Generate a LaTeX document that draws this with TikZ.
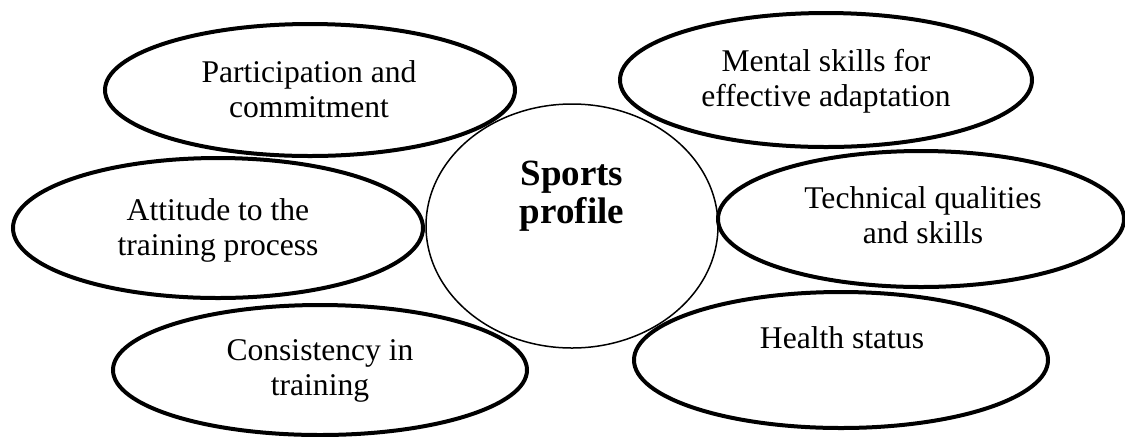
\documentclass[tikz,border=0pt]{standalone}
\usepackage{fontspec}
\setmainfont{Liberation Serif}
\usetikzlibrary{shapes.geometric}
\begin{document}
\begin{tikzpicture}[x=0.5pt, y=-0.5pt,
  petal/.style={ellipse, draw, line width=2pt, inner sep=0pt},
  hub/.style={ellipse, draw, line width=0.75pt, inner sep=0pt},
  petaltext/.style={align=center, anchor=base, inner sep=0pt,
    font=\fontsize{15.8}{17.5}\selectfont},
  hubtext/.style={align=center, anchor=base, inner sep=0pt,
    font=\bfseries\fontsize{18.5}{19}\selectfont}]
  \useasboundingbox (0,0) rectangle (1125,436);

  % central profile
  \node[hub, minimum width=146pt, minimum height=122pt] (hubshape) at (572,226) {};
  % text nodes are anchored at the baseline of their last line
  \node[hubtext] (hubname) at (572,223) {Sports\\profile};

  % surrounding components
  \node[petal, minimum width=205pt, minimum height=66pt] (part) at (310,90) {};
  \node[petal, minimum width=206pt, minimum height=67pt] (mental) at (826,80) {};
  \node[petal, minimum width=205pt, minimum height=70pt] (attitude) at (218,228) {};
  \node[petal, minimum width=203pt, minimum height=68pt] (tech) at (921,219) {};
  \node[petal, minimum width=207pt, minimum height=65pt] (consist) at (320,370) {};
  \node[petal, minimum width=207pt, minimum height=68pt] (health) at (841,360) {};

  \node[petaltext] (parttext) at (309,117) {Participation and\\commitment};
  \node[petaltext] (mentaltext) at (826,106) {Mental skills for\\effective adaptation};
  \node[petaltext] (attitudetext) at (218,255) {Attitude to the\\training process};
  \node[petaltext] (techtext) at (923,243) {Technical qualities\\and skills};
  \node[petaltext] (consisttext) at (320,395) {Consistency in\\training};
  \node[petaltext] (healthtext) at (842,348) {Health status};
\end{tikzpicture}
\end{document}
